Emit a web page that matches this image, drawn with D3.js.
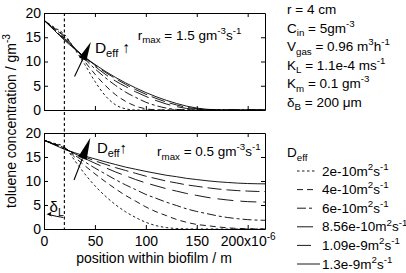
<!DOCTYPE html>
<html><head><meta charset="utf-8">
<script src="https://cdn.jsdelivr.net/npm/d3@7"></script>
<style>
body{margin:0;background:#fff}
svg{display:block}
text{font-family:"Liberation Sans",Arial,Helvetica,sans-serif;fill:#000}
</style>
</head><body>
<svg id="c" width="406" height="273"></svg>
<script>
// ---- data ----
const xPos = [0,10,20,30,40,50,60,70,80,90,100,110,120,130,140,150,160,170,180,190,200,210,220];
const deffLabels = ["2e-10","4e-10","6e-10","8.56e-10","1.09e-9","1.3e-9"];
// rmax = 1.5 g m^-3 s^-1 (top panel)
const top2e10   = [18.5,17.05,15.6,12.6,9.4,5.9,3.0,1.1,0.25,0,0,0,0,0,0,0,0,0,0,0,0,0,0];
const top4e10   = [18.5,16.9,15.3,12.7,10.0,7.4,5.1,3.2,1.8,0.8,0.25,0.03,0,0,0,0,0,0,0,0,0,0,0];
const top6e10   = [18.5,16.8,15.1,12.8,10.5,8.5,6.7,5.1,3.7,2.6,1.6,0.9,0.4,0.12,0.02,0,0,0,0,0,0,0,0];
const top856e10 = [18.5,16.65,14.8,12.7,10.8,9.0,7.4,6.0,4.85,3.75,2.8,1.95,1.25,0.7,0.32,0.1,0.02,0,0,0,0,0,0];
const top109e9  = [18.5,16.55,14.6,12.7,10.9,9.25,7.8,6.5,5.3,4.2,3.25,2.4,1.65,1.05,0.55,0.25,0.07,0,0,0,0,0,0];
const top13e9   = [18.5,16.45,14.4,12.6,10.9,9.4,8.0,6.75,5.6,4.55,3.6,2.75,2.0,1.35,0.8,0.4,0.15,0.04,0,0,0,0,0];
// rmax = 0.5 g m^-3 s^-1 (bottom panel)
const bot2e10   = [18.5,17.85,17.2,14.3,11.5,9.0,6.9,5.1,3.6,2.4,1.4,0.7,0.3,0.1,0.02,0,0,0,0,0,0,0,0];
const bot4e10   = [18.5,17.75,17.0,15.0,13.2,11.5,9.9,8.4,7.0,5.8,4.6,3.6,2.8,2.0,1.4,0.95,0.7,0.45,0.25,0.12,0.05,0.02,0];
const bot6e10   = [18.5,17.7,16.9,15.4,14.0,12.7,11.5,10.3,9.2,8.2,7.2,6.4,5.6,4.9,4.2,3.65,3.2,2.75,2.4,2.15,1.95,1.85,1.8];
const bot856e10 = [18.5,17.65,16.8,15.7,14.7,13.7,12.8,11.9,11.1,10.3,9.6,9.0,8.4,7.9,7.4,7.0,6.6,6.3,6.05,5.85,5.7,5.63,5.6];
const bot109e9  = [18.5,17.6,16.7,15.8,15.0,14.2,13.5,12.8,12.2,11.6,11.0,10.5,10.0,9.6,9.2,8.9,8.6,8.35,8.15,8.0,7.9,7.82,7.8];
const bot13e9   = [18.5,17.55,16.6,15.9,15.2,14.6,14.0,13.45,12.9,12.45,12.0,11.6,11.2,10.9,10.55,10.3,10.05,9.85,9.7,9.56,9.47,9.42,9.4];
const xTicks = [0,50,100,150,200];
const yTicks = [0,5,10,15,20];
const deltaL = 20;

// ---- styles ----
const dashes = ["2.5,2.5","6,4","9,3,3,3","16,7","14,5",null];

const svg = d3.select("#c");
const FS = 14;     // tick labels / axis titles
const FL = 13.5;   // params / legend
const x = d3.scaleLinear().domain([0,217]).range([44,265]);
const yTop = d3.scaleLinear().domain([0,20]).range([110,13]);
const yBot = d3.scaleLinear().domain([0,20]).range([229,133]);

function rich(sel, parts, size, initShift){
  let shift = initShift || 0;
  let first = true;
  parts.forEach(p=>{
    const s = p[0], t = p[1];
    const target = t==="sup" ? -0.42*size : t==="sub" ? 0.28*size : 0;
    sel.append("tspan").attr("dy", target-shift)
      .attr("font-size", t ? size*0.72 : size).text(s);
    shift = target;
    first = false;
  });
  return sel;
}

svg.append("defs").append("clipPath").attr("id","clipall")
  .append("rect").attr("x",44).attr("y",0).attr("width",221).attr("height",273);

function panel(y, series, showX){
  const g = svg.append("g");
  const styleAxis = a => { a.attr("font-size",FS).attr("font-family",null);
    a.selectAll("path.domain").attr("stroke","#000").attr("stroke-width",1);
    a.selectAll(".tick line").attr("stroke","#000"); };
  const left = g.append("g").attr("transform",`translate(${x.range()[0]},0)`)
    .call(d3.axisLeft(y).tickValues(yTicks).tickSizeInner(-4).tickSizeOuter(0).tickPadding(3).tickFormat(d3.format("d")));
  styleAxis(left);
  const right = g.append("g").attr("transform",`translate(${x.range()[1]},0)`)
    .call(d3.axisRight(y).tickValues(yTicks.slice(1,4)).tickSizeInner(-4).tickSizeOuter(0).tickFormat(""));
  styleAxis(right);
  const topA = g.append("g").attr("transform",`translate(0,${y.range()[1]})`)
    .call(d3.axisTop(x).tickValues(xTicks.slice(1)).tickSizeInner(-4).tickSizeOuter(0).tickFormat(""));
  styleAxis(topA);
  const bot = g.append("g").attr("transform",`translate(0,${y.range()[0]})`)
    .call(d3.axisBottom(x).tickValues(showX ? xTicks : xTicks.slice(1)).tickSizeInner(-4).tickSizeOuter(0).tickPadding(7)
      .tickFormat(showX ? d3.format("d") : ""));
  styleAxis(bot);
  if(showX){
    bot.selectAll(".tick text").filter(d=>d===200).each(function(){
      const t = d3.select(this);
      const y0 = +t.attr("y");
      t.text(null).attr("dy",null).attr("y", y0 + 0.71*FS);
      rich(t, [["200x10",""],["-6","sup"]], FS);
    });
  }
  const line = d3.line().x((d,i)=>x(xPos[i])).y(d=>y(d)).curve(d3.curveMonotoneX);
  const cg = g.append("g").attr("clip-path","url(#clipall)");
  series.forEach((s,k)=>{
    cg.append("path").attr("d", line(s)).attr("fill","none").attr("stroke","#000")
      .attr("stroke-width",0.9).attr("stroke-dasharray", dashes[k]);
  });
}

panel(yTop, [top2e10,top4e10,top6e10,top856e10,top109e9,top13e9], false);
panel(yBot, [bot2e10,bot4e10,bot6e10,bot856e10,bot109e9,bot13e9], true);

// vertical dashed line at liquid-film boundary
svg.append("line").attr("x1",x(deltaL)).attr("x2",x(deltaL)).attr("y1",yTop(20)).attr("y2",yBot(0))
  .attr("stroke","#000").attr("stroke-width",1.1).attr("stroke-dasharray","3,2.5");

// arrows
function arrow(x1,y1,x2,y2,hl,hw){
  const dx=x2-x1, dy=y2-y1, L=Math.hypot(dx,dy), ux=dx/L, uy=dy/L;
  const bx=x2-ux*hl, by=y2-uy*hl;
  svg.append("line").attr("x1",x1).attr("y1",y1).attr("x2",bx).attr("y2",by).attr("stroke","#000").attr("stroke-width",1.1);
  svg.append("path").attr("d",`M${x2},${y2}L${bx-uy*hw},${by+ux*hw}L${bx+uy*hw},${by-ux*hw}Z`).attr("fill","#000");
}
arrow(x(30),yTop(6.9),x(46),yTop(14),19,4);
arrow(x(29.5),yBot(10.2),x(45.5),yBot(19),22,4.5);

// annotations
rich(svg.append("text").attr("x",x(50)).attr("y",yTop(11.8)),[["D",""],["eff","sub"],[" \u2191",""]],15.5);
rich(svg.append("text").attr("x",x(52)).attr("y",yBot(15.9)),[["D",""],["eff","sub"],["\u2191",""]],15);
rich(svg.append("text").attr("x",x(92)).attr("y",yTop(14.5)),[["r",""],["max","sub"],[" = 1.5 gm",""],["-3","sup"],["s",""],["-1","sup"]],13.5);
rich(svg.append("text").attr("x",x(111)).attr("y",yBot(15.2)),[["r",""],["max","sub"],[" = 0.5 gm",""],["-3","sup"],["s",""],["-1","sup"]],13.5);
rich(svg.append("text").attr("x",x(5.5)).attr("y",yBot(3.6)),[["\u03b4",""],["L","sub"]],15);
svg.append("path").attr("d",`M${x(19)},${yBot(2.4)}Q${x(12)},${yBot(2.6)} ${x(5)},${yBot(3.0)}`)
  .attr("fill","none").attr("stroke","#000").attr("stroke-width",1);
svg.append("path").attr("d",`M${x(2.5)},${yBot(3.05)}l5,-2.5l-1,2.6l1.5,2z`).attr("fill","#000");

// axis titles
rich(svg.append("text").attr("transform","translate(16,121) rotate(-90)").attr("text-anchor","middle"),
  [["toluene concentration / gm",""],["-3","sup"]],FS);
svg.append("text").attr("x",154).attr("y",263).attr("text-anchor","middle").attr("font-size",FS)
  .text("position within biofilm / m");

// parameters
const params = [
  [["r = 4 cm",""]],
  [["C",""],["in","sub"],[" = 5gm",""],["-3","sup"]],
  [["V",""],["gas","sub"],[" = 0.96 m",""],["3","sup"],["h",""],["-1","sup"]],
  [["K",""],["L","sub"],[" = 1.1e-4 ms",""],["-1","sup"]],
  [["K",""],["m","sub"],[" = 0.1 gm",""],["-3","sup"]],
  [["\u03b4",""],["B","sub"],[" = 200 \u03bcm",""]]
];
params.forEach((p,i)=>rich(svg.append("text").attr("x",287).attr("y",14+i*18.5),p,FL));

// legend
rich(svg.append("text").attr("x",287).attr("y",157),[["D",""],["eff","sub"]],FL);
deffLabels.forEach((lab,i)=>{
  const yy = 175.5 + i*18.6;
  svg.append("line").attr("x1",297).attr("x2", i===5?320:315).attr("y1",yy-4.5).attr("y2",yy-4.5)
    .attr("stroke","#000").attr("stroke-width",0.9).attr("stroke-dasharray",dashes[i]);
  rich(svg.append("text").attr("x",322).attr("y",yy),[[lab+"m",""],["2","sup"],["s",""],["-1","sup"]],FL);
});
</script>
</body></html>
